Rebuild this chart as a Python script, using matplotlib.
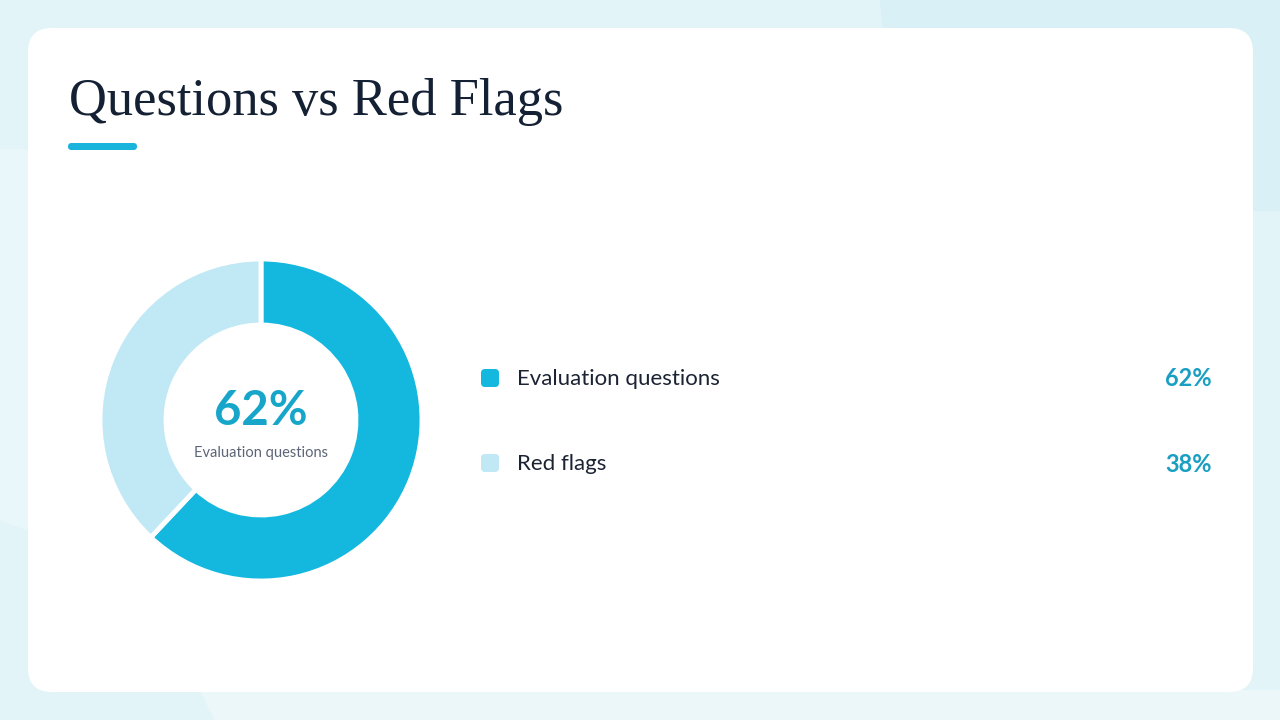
import matplotlib.pyplot as plt
from matplotlib.patches import FancyBboxPatch, Polygon

# данные
labels = ["Evaluation questions", "Red flags"]
values = [62, 38]
colors = ["#14b8de", "#c0e9f5"]
title = "Questions vs Red Flags"

W, H = 1280, 720
fig = plt.figure(figsize=(W / 100, H / 100), dpi=100)

# фон и карточка
bg = fig.add_axes([0, 0, 1, 1])
bg.set_xlim(0, W)
bg.set_ylim(H, 0)
bg.axis("off")
bg.add_patch(plt.Rectangle((0, 0), W, H, color="#e2f4f8", zorder=0))
bg.add_patch(Polygon([(880, 0), (1280, 0), (1280, 210), (900, 210)],
                     color="#d9f1f6", zorder=0.5))
bg.add_patch(Polygon([(0, 150), (28, 150), (28, 530), (0, 520)],
                     color="#e9f7fa", zorder=0.5))
bg.add_patch(Polygon([(200, 690), (1280, 690), (1280, 720), (215, 720)],
                     color="#ecf7fa", zorder=0.5))
bg.add_patch(FancyBboxPatch((28, 28), 1225, 664,
                            boxstyle="round,pad=0,rounding_size=24",
                            facecolor="white", edgecolor="none", zorder=1))

# заголовок и акцент
bg.text(69, 115, title, fontsize=37.8, family="Liberation Serif",
        color="#142033", va="baseline", ha="left", zorder=2)
bg.add_patch(FancyBboxPatch((68, 143), 69, 7,
                            boxstyle="round,pad=0,rounding_size=3.5",
                            facecolor="#18b4dc", edgecolor="none", zorder=2))

# кольцевая диаграмма
cx, cy, r = 261, 420, 161
ax = fig.add_axes([(cx - r) / W, (H - cy - r) / H, 2 * r / W, 2 * r / H])
ax.pie(values, colors=colors, startangle=90, counterclock=False,
       wedgeprops=dict(width=66 / r, edgecolor="white", linewidth=3.5))
ax.set_aspect("equal")
ax.set_xlim(-1, 1)
ax.set_ylim(-1, 1)
ax.text(0, 0.055, f"{values[0]}%", ha="center", va="center", fontsize=34,
        fontweight="bold", family="Lato", color="#17a6ca")
ax.text(0, -0.205, labels[0], ha="center", va="center", fontsize=10.5,
        family="Lato", color="#5c6577")

# легенда
rows_y = [378, 463]
for lab, val, col, y in zip(labels, values, colors, rows_y):
    bg.add_patch(FancyBboxPatch((481, y - 9), 18, 18,
                                boxstyle="round,pad=0,rounding_size=4",
                                facecolor=col, edgecolor="none", zorder=2))
    bg.text(517, y + 1, lab, fontsize=16, family="Lato", color="#1b2333",
            va="center", ha="left", zorder=2)
    bg.text(1212, y + 1, f"{val}%", fontsize=17, family="Lato", fontweight="bold",
            color="#1a9fc2", va="center", ha="right", zorder=2)

fig.savefig("out.png", dpi=100)
